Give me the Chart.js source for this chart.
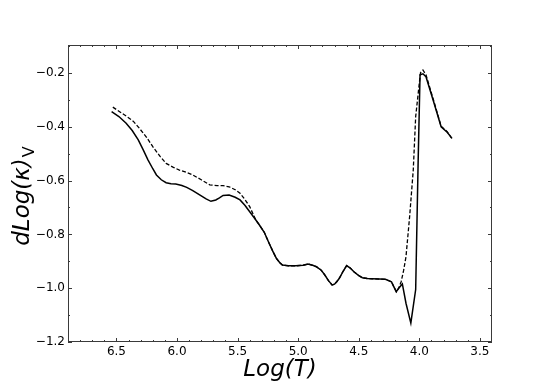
<!DOCTYPE html>
<html>
<head>
<meta charset="utf-8">
<script src="https://cdn.jsdelivr.net/npm/chart.js@4.4.1/dist/chart.umd.min.js"></script>
<style>
  html, body { margin: 0; padding: 0; background: #fff; }
  #wrap { width: 548px; height: 384px; position: relative; }
</style>
</head>
<body>
<div id="wrap"><canvas id="c"></canvas></div>
<script>
// solid curve
const solidT = [6.54, 6.48, 6.42, 6.37, 6.32, 6.28, 6.24, 6.20, 6.17, 6.13, 6.09, 6.05, 6.01, 5.96, 5.92, 5.87, 5.81, 5.76, 5.72, 5.68, 5.65, 5.62, 5.57, 5.52, 5.48, 5.44, 5.40, 5.36, 5.32, 5.28, 5.24, 5.21, 5.18, 5.15, 5.13, 5.08, 5.02, 4.96, 4.92, 4.88, 4.85, 4.81, 4.78, 4.75, 4.72, 4.70, 4.68, 4.66, 4.63, 4.60, 4.57, 4.54, 4.50, 4.47, 4.43, 4.39, 4.33, 4.28, 4.23, 4.21, 4.19, 4.17, 4.14, 4.11, 4.07, 4.03, 4.01, 3.994, 3.97, 3.945, 3.88, 3.82, 3.77, 3.73];
const solidK = [-0.344, -0.362, -0.387, -0.414, -0.449, -0.485, -0.523, -0.556, -0.579, -0.597, -0.608, -0.612, -0.613, -0.618, -0.625, -0.637, -0.654, -0.668, -0.677, -0.672, -0.664, -0.655, -0.654, -0.662, -0.672, -0.692, -0.716, -0.740, -0.765, -0.792, -0.833, -0.862, -0.889, -0.906, -0.914, -0.917, -0.917, -0.915, -0.910, -0.915, -0.920, -0.933, -0.951, -0.972, -0.988, -0.985, -0.975, -0.963, -0.938, -0.916, -0.925, -0.939, -0.953, -0.961, -0.964, -0.965, -0.966, -0.967, -0.976, -0.995, -1.013, -1.000, -0.984, -1.056, -1.130, -1.005, -0.536, -0.207, -0.203, -0.214, -0.310, -0.400, -0.420, -0.443];

// dashed curve
const dashedT = [6.53, 6.48, 6.42, 6.36, 6.31, 6.25, 6.20, 6.14, 6.09, 6.03, 5.98, 5.92, 5.87, 5.80, 5.73, 5.67, 5.62, 5.57, 5.52, 5.48, 5.44, 5.40, 5.35, 5.32, 5.28, 5.24, 5.21, 5.18, 5.15, 5.13, 5.08, 5.02, 4.96, 4.92, 4.88, 4.85, 4.81, 4.78, 4.75, 4.72, 4.70, 4.68, 4.66, 4.63, 4.60, 4.57, 4.54, 4.50, 4.47, 4.43, 4.39, 4.33, 4.28, 4.23, 4.21, 4.19, 4.17, 4.15, 4.13, 4.11, 4.08, 4.05, 4.03, 4.00, 3.99, 3.97, 3.945, 3.88, 3.82, 3.77, 3.73];
const dashedK = [-0.327, -0.342, -0.360, -0.380, -0.406, -0.440, -0.474, -0.510, -0.536, -0.551, -0.561, -0.570, -0.579, -0.597, -0.616, -0.619, -0.619, -0.623, -0.634, -0.647, -0.670, -0.697, -0.746, -0.765, -0.792, -0.833, -0.862, -0.889, -0.906, -0.914, -0.917, -0.917, -0.915, -0.910, -0.915, -0.920, -0.933, -0.951, -0.972, -0.988, -0.985, -0.975, -0.963, -0.938, -0.916, -0.925, -0.939, -0.953, -0.961, -0.964, -0.965, -0.966, -0.967, -0.976, -0.995, -1.013, -1.000, -0.976, -0.935, -0.883, -0.734, -0.561, -0.362, -0.238, -0.199, -0.189, -0.207, -0.305, -0.398, -0.418, -0.445];

const xTicks = [6.5, 6.0, 5.5, 5.0, 4.5, 4.0, 3.5];
const yTicks = [-1.2, -1.0, -0.8, -0.6, -0.4, -0.2];
const xMinor = [6.8, 6.7, 6.6, 6.4, 6.3, 6.2, 6.1, 5.9, 5.8, 5.7, 5.6, 5.4, 5.3, 5.2, 5.1, 4.9, 4.8, 4.7, 4.6, 4.4, 4.3, 4.2, 4.1, 3.9, 3.8, 3.7, 3.6];
const yMinor = [-1.1, -0.9, -0.7, -0.5, -0.3, -0.1];

const FONT = "'DejaVu Sans', sans-serif";

function pts(xs, ys) {
  return xs.map((x, i) => ({ x, y: ys[i] }));
}

function fmt(v) {
  return v.toFixed(1).replace('-', '\u2212');
}

// frame, inward ticks and y-title with subscript
const framePlugin = {
  id: 'frame',
  afterDraw(chart) {
    const ctx = chart.ctx;
    const a = chart.chartArea;
    const xs = chart.scales.x, ys = chart.scales.y;
    ctx.save();
    ctx.strokeStyle = '#3a3a3a';
    ctx.lineWidth = 1;
    ctx.strokeRect(Math.round(a.left) + 0.5, Math.round(a.top) + 0.5, Math.round(a.right - a.left) - 1, Math.round(a.bottom - a.top) - 1);
    ctx.beginPath();
    const tickX = (v, len) => {
      const p = Math.round(xs.getPixelForValue(v)) + 0.5;
      ctx.moveTo(p, a.bottom); ctx.lineTo(p, a.bottom - len);
      ctx.moveTo(p, a.top); ctx.lineTo(p, a.top + len);
    };
    const tickY = (v, len) => {
      const p = Math.round(ys.getPixelForValue(v)) + 0.5;
      ctx.moveTo(a.left, p); ctx.lineTo(a.left + len, p);
      ctx.moveTo(a.right, p); ctx.lineTo(a.right - len, p);
    };
    xTicks.forEach(v => tickX(v, 4));
    xMinor.forEach(v => tickX(v, 2));
    yTicks.forEach(v => tickY(v, 4));
    yMinor.forEach(v => tickY(v, 2));
    ctx.stroke();

    // y axis title: dLog(κ)_V
    const main = 'dLog(\u03BA)';
    const sub = 'V';
    ctx.fillStyle = '#000';
    ctx.font = 'italic 23px ' + FONT;
    const w1 = ctx.measureText(main).width;
    ctx.font = '16px ' + FONT;
    const w2 = ctx.measureText(sub).width;
    const cy = (a.top + a.bottom) / 2 + 3;
    ctx.translate(29, cy + (w1 + w2) / 2);
    ctx.rotate(-Math.PI / 2);
    ctx.textBaseline = 'alphabetic';
    ctx.textAlign = 'left';
    ctx.font = 'italic 23px ' + FONT;
    ctx.fillText(main, 0, 0);
    ctx.font = '16px ' + FONT;
    ctx.fillText(sub, w1 + 1, 5);
    ctx.restore();
  }
};

new Chart(document.getElementById('c'), {
  type: 'line',
  data: {
    datasets: [{
      label: 'solid',
      data: pts(solidT, solidK),
      borderColor: '#000',
      borderWidth: 1.5,
      pointRadius: 0,
      fill: false,
      tension: 0
    }, {
      label: 'dashed',
      data: pts(dashedT, dashedK),
      borderColor: '#000',
      borderWidth: 1.3,
      borderDash: [4, 2],
      pointRadius: 0,
      fill: false,
      tension: 0
    }]
  },
  options: {
    responsive: true,
    maintainAspectRatio: false,
    animation: false,
    events: [],
    layout: { padding: { top: 45, right: 56, left: 0, bottom: 0 } },
    plugins: { legend: { display: false }, tooltip: { enabled: false } },
    scales: {
      x: {
        type: 'linear',
        reverse: true,
        min: 3.4,
        max: 6.9,
        afterBuildTicks: s => { s.ticks = xTicks.map(v => ({ value: v })); },
        afterFit: s => { s.height = 42; },
        grid: { display: false, drawTicks: false },
        border: { display: false },
        ticks: {
          color: '#000',
          font: { family: FONT, size: 12 },
          padding: 3,
          maxRotation: 0,
          callback: v => fmt(v)
        },
        title: {
          display: true,
          text: 'Log(T)',
          color: '#000',
          font: { family: FONT, size: 23, style: 'italic' },
          padding: { top: 0, bottom: 0 }
        }
      },
      y: {
        type: 'linear',
        min: -1.2,
        max: -0.096,
        afterBuildTicks: s => { s.ticks = yTicks.map(v => ({ value: v })); },
        afterFit: s => { s.width = 68; },
        grid: { display: false, drawTicks: false },
        border: { display: false },
        ticks: {
          color: '#000',
          font: { family: FONT, size: 12 },
          padding: 3,
          callback: v => fmt(v)
        }
      }
    }
  },
  plugins: [framePlugin]
});
</script>
</body>
</html>
